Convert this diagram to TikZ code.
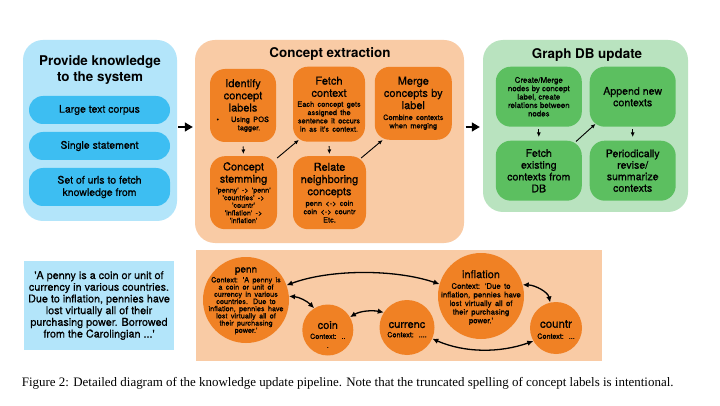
\documentclass[tikz,border=0pt]{standalone}
\usepackage{fontspec}
\setmainfont{TeX Gyre Heros}
\newfontfamily\med[FakeBold=0.6]{TeX Gyre Heros}
\newfontfamily\capfont{Liberation Serif}
\usetikzlibrary{arrows.meta,calc}
\definecolor{bpanel}{HTML}{B3E5FA}
\definecolor{bpill}{HTML}{3DBEF2}
\definecolor{opanel}{HTML}{F9CBA5}
\definecolor{onode}{HTML}{F08124}
\definecolor{gpanel}{HTML}{B9E3BF}
\definecolor{gnode}{HTML}{5CBF60}
\newcommand\q{\textquotesingle}
\newcommand\ttlf{\med\fontsize{11}{12.2}\selectfont}
\newcommand\smf{\med\fontsize{7.4}{8.3}\selectfont}
\tikzset{
 panelbox/.style={rounded corners=20pt, inner sep=0pt, draw=none},
 ptitle/.style={font=\bfseries\fontsize{13.4}{16}\selectfont, align=center, inner sep=0pt},
 pill/.style={fill=bpill, rounded corners=14pt, minimum width=141pt, inner sep=0pt, align=center, font=\med\fontsize{10.5}{12.3}\selectfont},
 obox/.style={fill=onode, rounded corners=15pt, inner sep=0pt, align=center, text width=64pt},
 gbox/.style={fill=gnode, rounded corners=15pt, inner sep=0pt, align=center, minimum width=86pt, minimum height=60pt},
 flow/.style={-{Latex[length=4.5pt,width=4pt]}, line width=0.9pt},
 bigarrow/.style={-{Triangle[length=8pt,width=9pt]}, line width=1.2pt},
 circ/.style={circle, fill=onode, inner sep=0pt},
 ctext/.style={align=center, inner sep=0pt, text width=84pt},
 rel/.style={{Latex[length=6pt,width=5.5pt]}-{Latex[length=6pt,width=5.5pt]}, line width=1.3pt},
}
\begin{document}
\begin{tikzpicture}[x=1pt,y=-1pt]
\fill[white] (0,0) rectangle (720,406);
\useasboundingbox (0,0) rectangle (720,406);

% ---------- Panel 1 ----------
\node[panelbox, fill=bpanel, minimum width=154pt, minimum height=181pt] (p1) at (100,130.5) {};
\node[ptitle] (t1) at (100,70) {Provide knowledge\\to the system};
\node[pill, minimum height=28pt] (l1) at (99.5,110) {Large text corpus};
\node[pill, minimum height=28pt] (l2) at (99.5,146) {Single statement};
\node[pill, minimum height=38pt] (l3) at (99.5,187) {Set of urls to fetch\\knowledge from};

% ---------- Panel 2 ----------
\node[panelbox, fill=opanel, minimum width=269pt, minimum height=203pt] (p2) at (329.5,141.5) {};
\node[ptitle] (t2) at (330,54) {Concept extraction};
\node[obox, minimum width=66pt, minimum height=73pt] (id) at (243,105.5)
 {{\ttlf Identify\\concept\\labels\par}\vspace{2.2pt}{\smf\hspace*{14pt}\llap{\textbullet\hspace{12pt}}Using POS\\\hspace*{12pt}tagger.\par}};
\node[obox, minimum width=72pt, minimum height=75pt] (fetch) at (329,104.2)
 {{\ttlf Fetch\\context\par}\vspace{1.7pt}{\smf Each concept gets\\assigned the\\sentence it occurs\\in as it\q s context.\par}};
\node[obox, minimum width=77pt, minimum height=73pt] (merge) at (413.3,103.3)
 {{\ttlf Merge\\concepts by\\label\par}\vspace{2.6pt}{\smf Combine contexts\\when merging\par}};
\node[obox, minimum width=67pt, minimum height=73pt] (stem) at (243.5,192.7)
 {{\ttlf Concept\\stemming\par}\vspace{2.4pt}{\med\fontsize{7.2}{7.6}\selectfont \q penny\q{} -> \q penn\q\\\q countries\q{} ->\\\q countr\q\\\q inflation\q{} ->\\\q inflation\q\par}};
\node[obox, minimum width=73pt, minimum height=73pt] (relate) at (329.5,192.7)
 {{\ttlf Relate\\neighboring\\concepts\par}\vspace{2.4pt}{\smf penn <-> coin\\coin <-> countr\\Etc.\par}};
\draw[flow, shorten <=4.3pt, shorten >=2pt] (id.south) -- (stem.north);
\draw[flow, shorten <=4.3pt, shorten >=2pt] (fetch.south) -- (relate.north);
\draw[flow] ($(stem.north east)+(0,2)$) -- ($(fetch.south west)+(6,-2)$);
\draw[flow] ($(relate.north east)+(-5,2)$) -- ($(merge.south west)+(8,0)$);

% ---------- Panel 3 ----------
\node[panelbox, fill=gpanel, minimum width=205pt, minimum height=172pt] (p3) at (585.5,126) {};
\node[ptitle] (t3) at (587,55) {Graph DB update};
\node[gbox, font=\med\fontsize{7.9}{8.4}\selectfont] (create) at (538.8,96.7) {Create/Merge\\nodes by concept\\label, create\\relations between\\nodes};
\node[gbox, font=\med\fontsize{10.6}{11.5}\selectfont] (append) at (632.7,96.7) {Append new\\contexts};
\node[gbox, font=\med\fontsize{10.6}{11.8}\selectfont] (fetchdb) at (538.8,170.7) {Fetch\\existing\\contexts from\\DB};
\node[gbox, font=\med\fontsize{10.6}{11.5}\selectfont] (period) at (632.7,170.7) {Periodically\\revise/\\summarize\\contexts};
\draw[flow, shorten <=2.5pt, shorten >=3.5pt] (create.south) -- (fetchdb.north);
\draw[flow, shorten <=2.5pt, shorten >=3.5pt] (append.south) -- (period.north);
\draw[flow] ($(fetchdb.north east)+(-6,1)$) -- ($(append.south west)+(6,-3)$);

% ---------- panel connectors ----------
\draw[bigarrow, shorten <=1pt, shorten >=2pt] (p1.east |- 0,127) -- (p2.west |- 0,127);
\draw[bigarrow, shorten <=1.5pt, shorten >=3pt] (p2.east |- 0,127) -- (p3.west |- 0,127);

% ---------- Bottom ----------
\node[fill=bpanel, minimum width=150pt, minimum height=89pt, inner sep=0pt, align=center,
      font=\med\fontsize{10.8}{11.7}\selectfont] (quote) at (99,305.5)
 {\q A penny is a coin or unit of\\currency in various countries.\\Due to inflation, pennies have\\lost virtually all of their\\purchasing power. Borrowed\\from the Carolingian ...\q};
\node[fill=opanel, minimum width=406pt, minimum height=111pt, inner sep=0pt] (gp) at (399,305.5) {};

\node[circ, minimum size=86pt] (penn) at (246,300) {};
\node[circ, minimum size=51pt] (coin) at (327.8,330) {};
\node[circ, minimum size=55pt] (currenc) at (407,327.5) {};
\node[circ, minimum size=86pt] (inflation) at (481,296) {};
\node[circ, minimum size=52pt] (countr) at (556,328) {};

\node[ctext] (penntxt) at (246,300.8)
 {{\med\fontsize{10}{11}\selectfont penn\par}\vspace{1.2pt}{\med\fontsize{7.3}{7.2}\selectfont Context: \q A penny is\\a coin or unit of\\currency in various\\countries. Due to\\inflation, pennies have\\lost virtually all of\\their purchasing\\power.\q\par}};
\node[ctext] (inflationtxt) at (481,297.5)
 {{\med\fontsize{11}{12}\selectfont inflation\par}\vspace{2.1pt}{\med\fontsize{7.8}{8.6}\selectfont Context: \q Due to\\inflation, pennies have\\lost virtually all of\\their purchasing\\power.\q\par}};
\node[ctext] (cointxt) at (327.8,334.5)
 {{\med\fontsize{11}{12}\selectfont coin\par}\vspace{1pt}{\med\fontsize{7.2}{9}\selectfont Context: ..\\.\par}};
\node[ctext] (currenctxt) at (407,329.7)
 {{\med\fontsize{11}{12}\selectfont currenc\par}\vspace{0.3pt}{\med\fontsize{7.2}{9}\selectfont Context: ....\par}};
\node[ctext] (countrtxt) at (556,329.5)
 {{\med\fontsize{11.5}{12}\selectfont countr\par}\vspace{2pt}{\med\fontsize{7.2}{9}\selectfont Context: ...\par}};

\draw[rel] (penn.20) .. controls (330,269) and (395,269) .. (inflation.164);
\draw[rel] (penn.5) .. controls (299,297) and (307,301) .. (coin.122);
\draw[rel] (coin.30) .. controls (360,311) and (372,310) .. (currenc.147);
\draw[rel] (inflation.15) .. controls (535,285) and (548,292) .. (countr.103);
\draw[rel] (currenc.-24) .. controls (465,353) and (500,353) .. (countr.210);

% ---------- Caption ----------
\node[anchor=base west, inner sep=0pt, font=\capfont\fontsize{12.95}{15}\selectfont] (cap) at (21.7,386)
 {Figure 2: Detailed diagram of the knowledge update pipeline. Note that the truncated spelling of concept labels is intentional.};
\end{tikzpicture}
\end{document}
